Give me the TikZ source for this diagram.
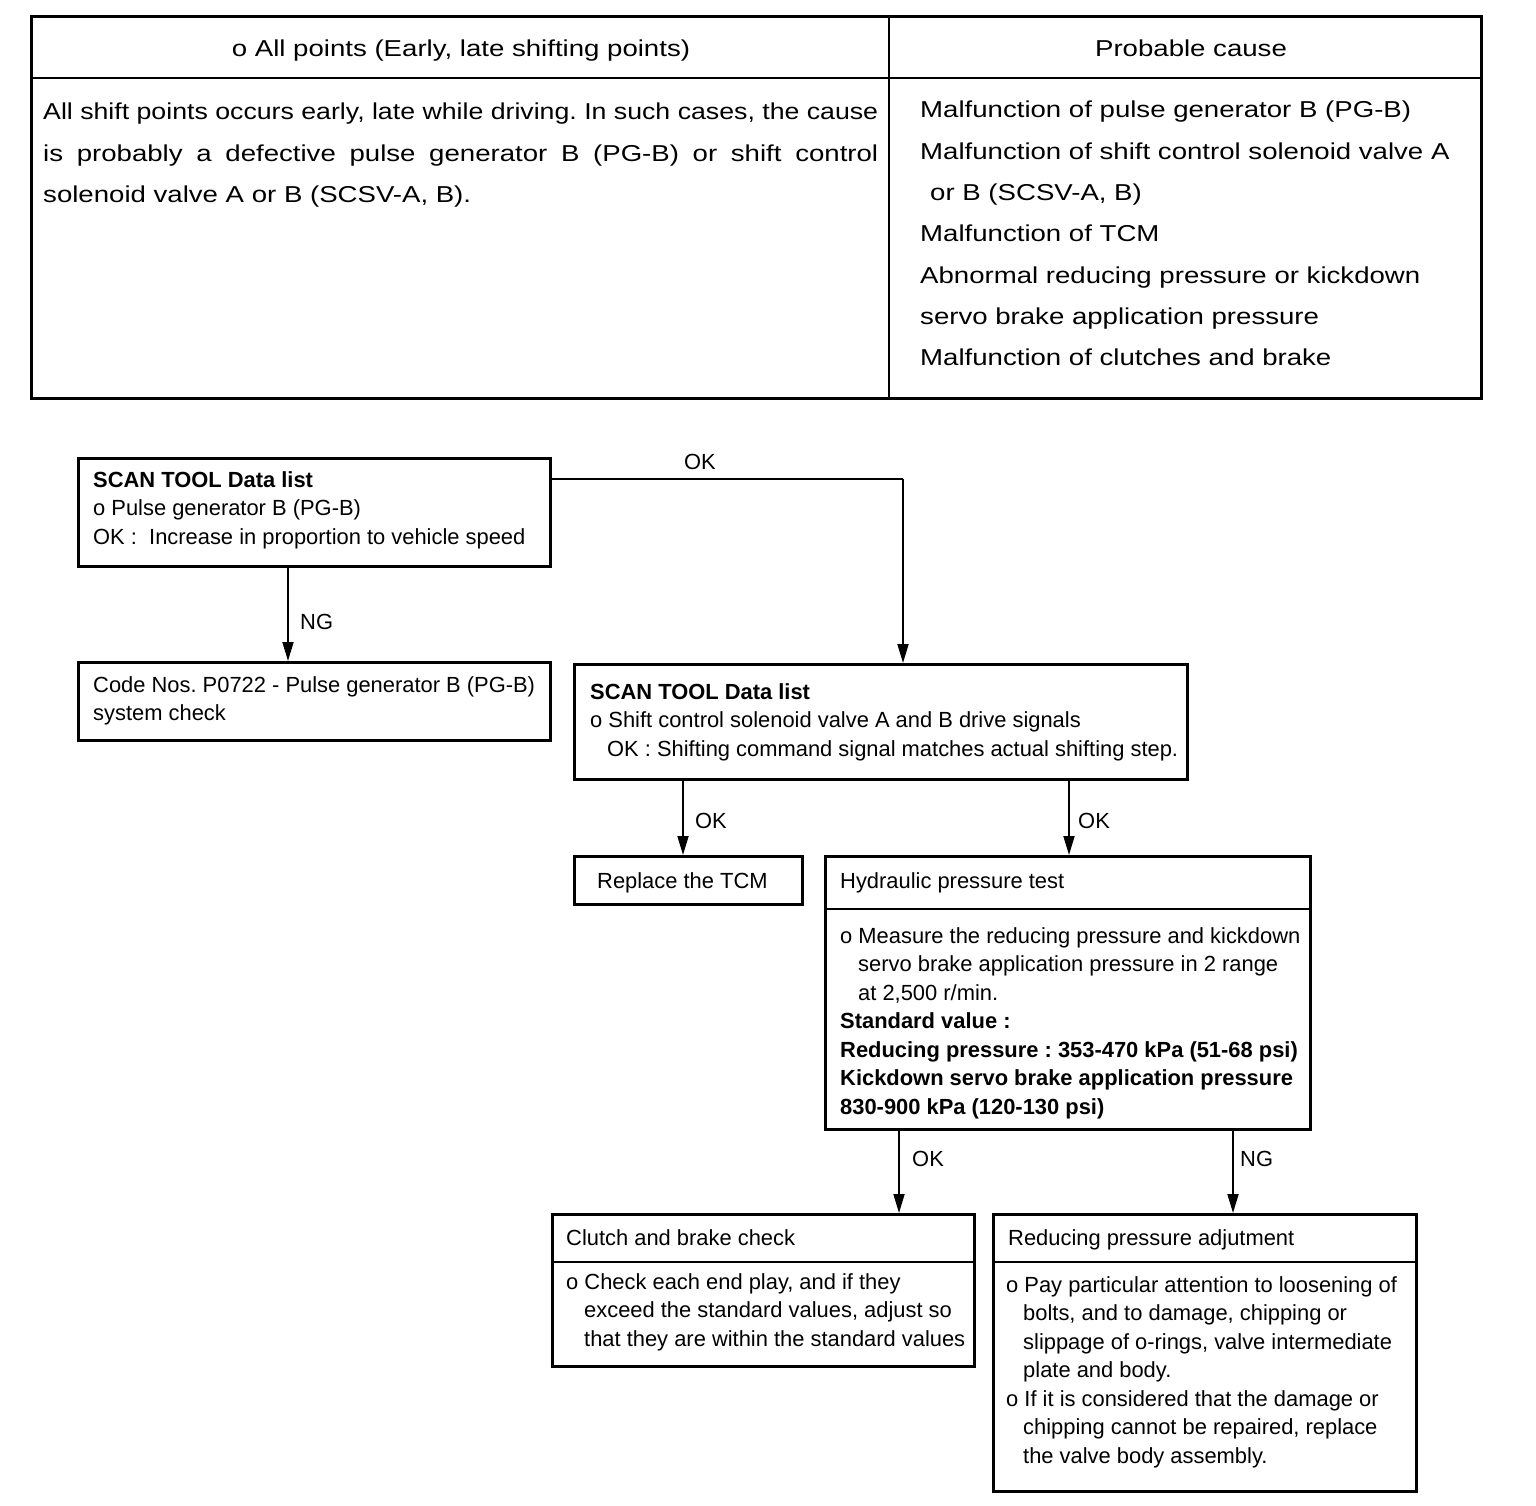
\documentclass[tikz,border=0pt]{standalone}
\usepackage{fontspec}
\setmainfont{Liberation Sans}
\newfontfamily\tabfont[FakeStretch=1.2]{Liberation Sans}
\usetikzlibrary{arrows.meta}
\begin{document}
\frenchspacing
\begin{tikzpicture}[x=1pt,y=-1pt,
  frame/.style={draw, line width=2.6pt, inner sep=0pt, anchor=north west},
  rule/.style={line width=2.4pt},
  conn/.style={line width=1.8pt, -{Triangle[width=11pt,length=19pt]}},
  plain/.style={line width=1.8pt},
  tbl/.style={inner sep=0pt, font=\tabfont\fontsize{23}{41.3}\selectfont},
  ftxt/.style={inner sep=0pt, anchor=base west, font=\fontsize{21.9}{28.5}\selectfont},
  lbl/.style={inner sep=0pt, anchor=base west, font=\fontsize{21.9}{28}\selectfont}]
\useasboundingbox (0,0) rectangle (1536,1506);
% ---------- top table ----------
\node[frame, minimum width=1450pt, minimum height=382pt] (tab) at (30,15) {};
\draw[rule] (tab.west |- 0,78) -- (tab.east |- 0,78);
\draw[rule] (889,0 |- tab.north) -- (889,0 |- tab.south);
\node[tbl, anchor=base] (h1) at (461,57) {o All points (Early, late shifting points)};
\node[tbl, anchor=base] (h2) at (1191,57) {Probable cause};
\node[tbl, anchor=base west] (sym) at (43,120) {\begin{tabular}[t]{@{}l@{}}
\resizebox{835pt}{\height}{All shift points occurs early, late while driving. In such cases, the cause}\\
\makebox[835pt][s]{is probably a defective pulse generator B (PG-B) or shift control}\\
solenoid valve A or B (SCSV-A, B).
\end{tabular}};
\node[tbl, anchor=base west] (cause) at (920,118) {\begin{tabular}[t]{@{}l@{}}
Malfunction of pulse generator B (PG-B)\\
Malfunction of shift control solenoid valve A\\
\hspace*{10pt}or B (SCSV-A, B)\\
Malfunction of TCM\\
Abnormal reducing pressure or kickdown\\
servo brake application pressure\\
Malfunction of clutches and brake
\end{tabular}};
% ---------- flowchart boxes ----------
\node[frame, minimum width=472pt, minimum height=108pt] (b1) at (77,457) {};
\node[ftxt] (b1t) at (93,487) {\begin{tabular}[t]{@{}l@{}}
\textbf{SCAN TOOL Data list}\\
o Pulse generator B (PG-B)\\
OK :\ \ Increase in proportion to vehicle speed
\end{tabular}};
\node[frame, minimum width=472pt, minimum height=78pt] (b2) at (77,661) {};
\node[ftxt] (b2t) at (93,692) {\begin{tabular}[t]{@{}l@{}}
Code Nos. P0722 - Pulse generator B (PG-B)\\
system check
\end{tabular}};
\node[frame, minimum width=613pt, minimum height=115pt] (b3) at (573,663) {};
\node[ftxt] (b3t) at (590,699) {\begin{tabular}[t]{@{}l@{}}
\textbf{SCAN TOOL Data list}\\
o Shift control solenoid valve A and B drive signals\\
\hspace*{17pt}OK : Shifting command signal matches actual shifting step.
\end{tabular}};
\node[frame, minimum width=228pt, minimum height=48pt] (b4) at (573,855) {};
\node[ftxt] (b4t) at (597,888) {Replace the TCM};
\node[frame, minimum width=485pt, minimum height=273pt] (b5) at (824,855) {};
\draw[rule] (b5.west |- 0,909) -- (b5.east |- 0,909);
\node[ftxt] (b5h) at (840,888) {Hydraulic pressure test};
\node[ftxt] (b5t) at (840,943) {\begin{tabular}[t]{@{}l@{}}
o Measure the reducing pressure and kickdown\\
\hspace*{18pt}servo brake application pressure in 2 range\\
\hspace*{18pt}at 2,500 r/min.\\
\textbf{Standard value :}\\
\textbf{Reducing pressure : 353-470 kPa (51-68 psi)}\\
\textbf{Kickdown servo brake application pressure}\\
\textbf{830-900 kPa (120-130 psi)}
\end{tabular}};
\node[frame, minimum width=422pt, minimum height=152pt] (b6) at (551,1213) {};
\draw[rule] (b6.west |- 0,1262) -- (b6.east |- 0,1262);
\node[ftxt] (b6h) at (566,1245) {Clutch and brake check};
\node[ftxt] (b6t) at (566,1289) {\begin{tabular}[t]{@{}l@{}}
o Check each end play, and if they\\
\hspace*{18pt}exceed the standard values, adjust so\\
\hspace*{18pt}that they are within the standard values
\end{tabular}};
\node[frame, minimum width=423pt, minimum height=277pt] (b7) at (992,1213) {};
\draw[rule] (b7.west |- 0,1262) -- (b7.east |- 0,1262);
\node[ftxt] (b7h) at (1008,1245) {Reducing pressure adjutment};
\node[ftxt] (b7t) at (1006,1292) {\begin{tabular}[t]{@{}l@{}}
o Pay particular attention to loosening of\\
\hspace*{17pt}bolts, and to damage, chipping or\\
\hspace*{17pt}slippage of o-rings, valve intermediate\\
\hspace*{17pt}plate and body.\\
o If it is considered that the damage or\\
\hspace*{17pt}chipping cannot be repaired, replace\\
\hspace*{17pt}the valve body assembly.
\end{tabular}};
% ---------- connectors ----------
\draw[conn] (288,0 |- b1.south) -- (288,0 |- b2.north);
\node[lbl] (l1) at (300,629) {NG};
\draw[plain] (b1.east |- 0,479) -- (903,479);
\draw[conn] (903,479) -- (903,0 |- b3.north);
\node[lbl] (l2) at (684,469) {OK};
\draw[conn] (683,0 |- b3.south) -- (683,0 |- b4.north);
\node[lbl] (l3) at (695,828) {OK};
\draw[conn] (1069,0 |- b3.south) -- (1069,0 |- b5.north);
\node[lbl] (l4) at (1078,828) {OK};
\draw[conn] (899,0 |- b5.south) -- (899,0 |- b6.north);
\node[lbl] (l5) at (912,1166) {OK};
\draw[conn] (1233,0 |- b5.south) -- (1233,0 |- b7.north);
\node[lbl] (l6) at (1240,1166) {NG};
\end{tikzpicture}
\end{document}
